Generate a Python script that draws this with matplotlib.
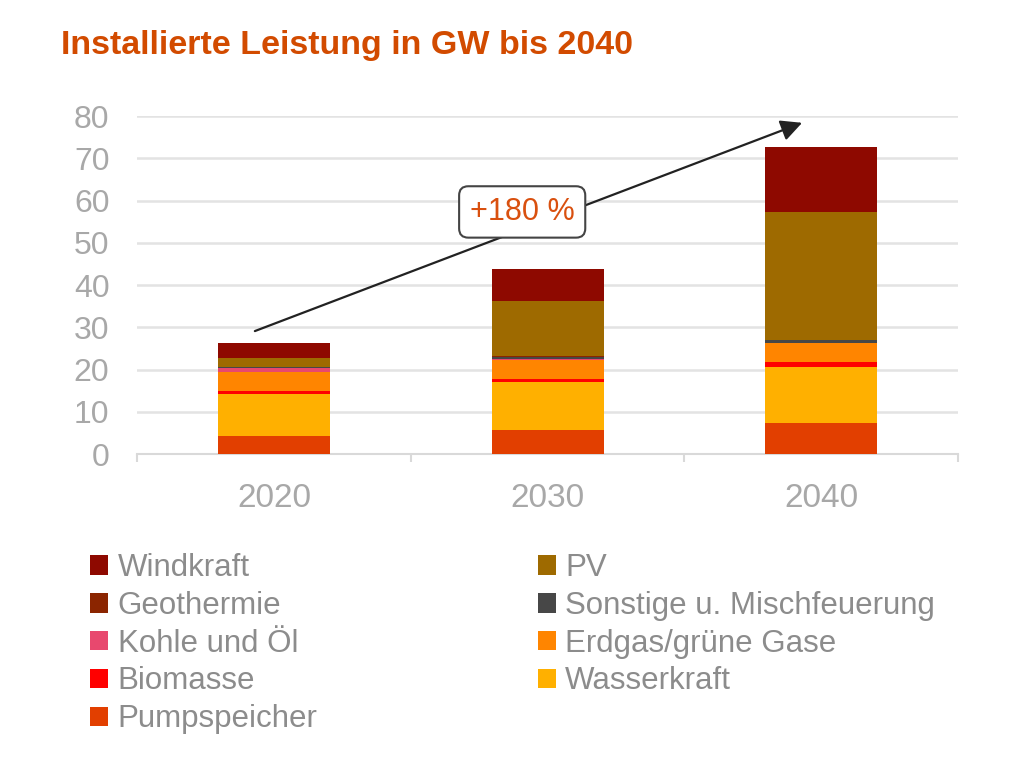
import matplotlib
matplotlib.use("Agg")
import matplotlib.pyplot as plt
from matplotlib.patches import Patch
import numpy as np

plt.rcParams['font.family'] = ['Liberation Sans', 'DejaVu Sans']

years = ['2020', '2030', '2040']
pumpspeicher = [4.3, 5.8, 7.4]
wasserkraft = [9.9, 11.2, 13.2]
biomasse = [0.6, 0.7, 1.1]
erdgas = [4.7, 4.5, 4.5]
kohle = [0.8, 0.3, 0.0]
sonstige = [0.2, 0.5, 0.8]
geothermie = [0.0, 0.1, 0.1]
pv = [2.2, 13.2, 30.2]
windkraft = [3.6, 7.6, 15.4]

series_names = ['Pumpspeicher', 'Wasserkraft', 'Biomasse', 'Erdgas/grüne Gase',
                'Kohle und Öl', 'Sonstige u. Mischfeuerung', 'Geothermie', 'PV', 'Windkraft']
series_values = [pumpspeicher, wasserkraft, biomasse, erdgas, kohle, sonstige,
                 geothermie, pv, windkraft]
colors = {'Pumpspeicher': '#E23F00', 'Wasserkraft': '#FFB000', 'Biomasse': '#FF0000',
          'Erdgas/grüne Gase': '#FF8500', 'Kohle und Öl': '#E8486E',
          'Sonstige u. Mischfeuerung': '#474747', 'Geothermie': '#8B2500',
          'PV': '#9E6A00', 'Windkraft': '#8E0900'}

fig = plt.figure(figsize=(10.24, 7.69), dpi=100)
ax = fig.add_axes([0.134, 0.4096, 0.8016, 0.4395])

x = np.arange(len(years))
bottom = np.zeros(len(years))
for name, vals in zip(series_names, series_values):
    ax.bar(x, vals, width=0.41, bottom=bottom, color=colors[name], zorder=3, linewidth=0)
    bottom += np.array(vals)

ax.set_xlim(-0.5, 2.5)
ax.set_ylim(0, 80)
ax.set_yticks(range(0, 81, 10))
ax.yaxis.grid(True, color='#e3e3e3', linewidth=1.8, zorder=0)
ax.set_axisbelow(True)
for s in ['top', 'right', 'left']:
    ax.spines[s].set_visible(False)
ax.spines['bottom'].set_color('#d9d9d9')
ax.spines['bottom'].set_linewidth(1.5)
ax.set_xticks(x)
ax.set_xticklabels(years)
ax.set_xticks([-0.5, 0.5, 1.5, 2.5], minor=True)
ax.tick_params(axis='x', which='major', length=0, pad=21, labelsize=24, labelcolor='#a8a8a8')
ax.tick_params(axis='x', which='minor', length=6, color='#d9d9d9', width=1.5)
ax.tick_params(axis='y', length=0, pad=20, labelsize=23, labelcolor='#a8a8a8')

# arrow
ax.annotate('', xy=(1.93, 78.4), xytext=(-0.07, 29.1),
            arrowprops=dict(arrowstyle='-|>', color='#222222', lw=1.6,
                            mutation_scale=32, shrinkA=0, shrinkB=0),
            zorder=5, annotation_clip=False)
ax.text(0.907, 57.3, '+180 %', ha='center', va='center', fontsize=22, color='#D9500F',
        zorder=6,
        bbox=dict(boxstyle='round,pad=0.35,rounding_size=0.3', fc='white', ec='#444444', lw=1.5))

fig.text(0.06, 0.941, 'Installierte Leistung in GW bis 2040', fontsize=24.5, fontweight='bold',
         color='#D24B00', ha='left', va='center')

left_names = ['Windkraft', 'Geothermie', 'Kohle und Öl', 'Biomasse', 'Pumpspeicher']
right_names = ['PV', 'Sonstige u. Mischfeuerung', 'Erdgas/grüne Gase', 'Wasserkraft']
for names, xpos in [(left_names, 0.088), (right_names, 0.525)]:
    handles = [Patch(facecolor=colors[n], edgecolor='none', label=n) for n in names]
    leg = fig.legend(handles=handles, loc='upper left', bbox_to_anchor=(xpos, 1 - 553 / 769),
                     frameon=False, fontsize=22.5, handlelength=0.58, handleheight=0.58,
                     handletextpad=0.3, labelspacing=0.25, borderpad=0, borderaxespad=0)
    for t in leg.get_texts():
        t.set_color('#8c8c8c')

fig.savefig('out.png', dpi=100)
